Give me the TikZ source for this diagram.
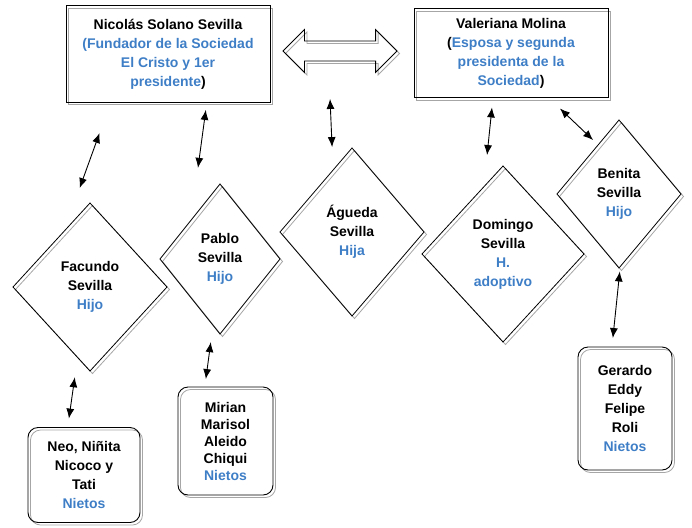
\documentclass[tikz,border=0pt]{standalone}
\usepackage{fontspec}
\setmainfont{Liberation Sans}
\usetikzlibrary{shapes.geometric,shapes.arrows,shadows,arrows.meta}
\definecolor{kinblue}{RGB}{62,126,198}
\newcommand{\blu}[1]{\textcolor{kinblue}{#1}}

\begin{document}
\begin{tikzpicture}[x=1pt,y=-1pt]
    \tikzstyle{every node}+=[inner sep=0pt, outer sep=0pt, align=center, font=\fontsize{14}{19}\selectfont\bfseries]
    \tikzstyle{ghost}=[copy shadow={shadow xshift=2.5pt, shadow yshift=-2.5pt, draw=black!35, fill=none, line width=0.8pt}]
    \tikzstyle{founder}=[draw, line width=1pt, ghost]
    \tikzstyle{child}=[diamond, draw, line width=0.8pt, ghost]
    \tikzstyle{grand}=[draw, rounded corners=10pt, line width=0.9pt, ghost]
    \tikzstyle{link}=[line width=0.9pt, {Latex[length=10pt,width=8pt]}-{Latex[length=10pt,width=8pt]}]
    \useasboundingbox (0,0) rectangle (692,527);
    \node [founder, minimum width=204, minimum height=96] (nic) at (168,54)
        {Nicolás Solano Sevilla\\\blu{(Fundador de la Sociedad}\\\blu{El Cristo y 1er}\\\blu{presidente})};
    \node [founder, minimum width=194, minimum height=89] (val) at (511,53)
        {Valeriana Molina\\(\blu{Esposa y segunda}\\\blu{presidenta de la}\\\blu{Sociedad})};
    \node [double arrow, draw, line width=0.8pt, ghost, minimum height=114, minimum width=42,
        inner xsep=0pt, inner ysep=9.5pt, double arrow head extend=11.5pt] (dbl) at (340,51) {};
    \node [child, minimum width=154, minimum height=168] (fac) at (90,287) {Facundo\\Sevilla\\\blu{Hijo}};
    \node [child, minimum width=120, minimum height=150] (pab) at (220,259) {Pablo\\Sevilla\\\blu{Hijo}};
    \node [child, minimum width=144, minimum height=168] (agu) at (352,232) {Águeda\\Sevilla\\\blu{Hija}};
    \node [child, minimum width=162, minimum height=176] (dom) at (503,254) {Domingo\\Sevilla\\\blu{H.}\\\blu{adoptivo}};
    \node [child, minimum width=124, minimum height=148] (ben) at (619,194) {Benita\\Sevilla\\\blu{Hijo}};
    \node [grand, minimum width=112, minimum height=95] (neo) at (84,475) {Neo, Niñita\\Nicoco y\\Tati\\\blu{Nietos}};
    \node [grand, minimum width=95, minimum height=108, font=\fontsize{14}{17}\selectfont\bfseries] (mir) at (225.5,441)
        {Mirian\\Marisol\\Aleido\\Chiqui\\\blu{Nietos}};
    \node [grand, minimum width=94, minimum height=123] (ger) at (625,408.5) {Gerardo\\Eddy\\Felipe\\Roli\\\blu{Nietos}};
    \draw [link, shorten <=33pt, shorten >=46pt] (nic.220) -- (fac.115);
    \draw [link, shorten <=8pt, shorten >=53pt] (nic.309) -- (pab.127);
    \draw [link, shorten <=48pt, shorten >=23pt] ([xshift=-12pt]dbl.center) -- (agu.107);
    \draw [link, shorten <=10pt, shorten >=32pt] (val.248) -- (dom.106);
    \draw [link, shorten <=16pt, shorten >=7pt] (val.310) -- (ben.113);
    \draw [link, shorten <=20pt, shorten >=9pt] (fac.260) -- (neo.109);
    \draw [link, shorten <=17pt, shorten >=8pt] (pab.264) -- (mir.111);
    \draw [link, shorten <=5pt, shorten >=9pt] (ben.271) -- (ger.102);
\end{tikzpicture}
\end{document}
